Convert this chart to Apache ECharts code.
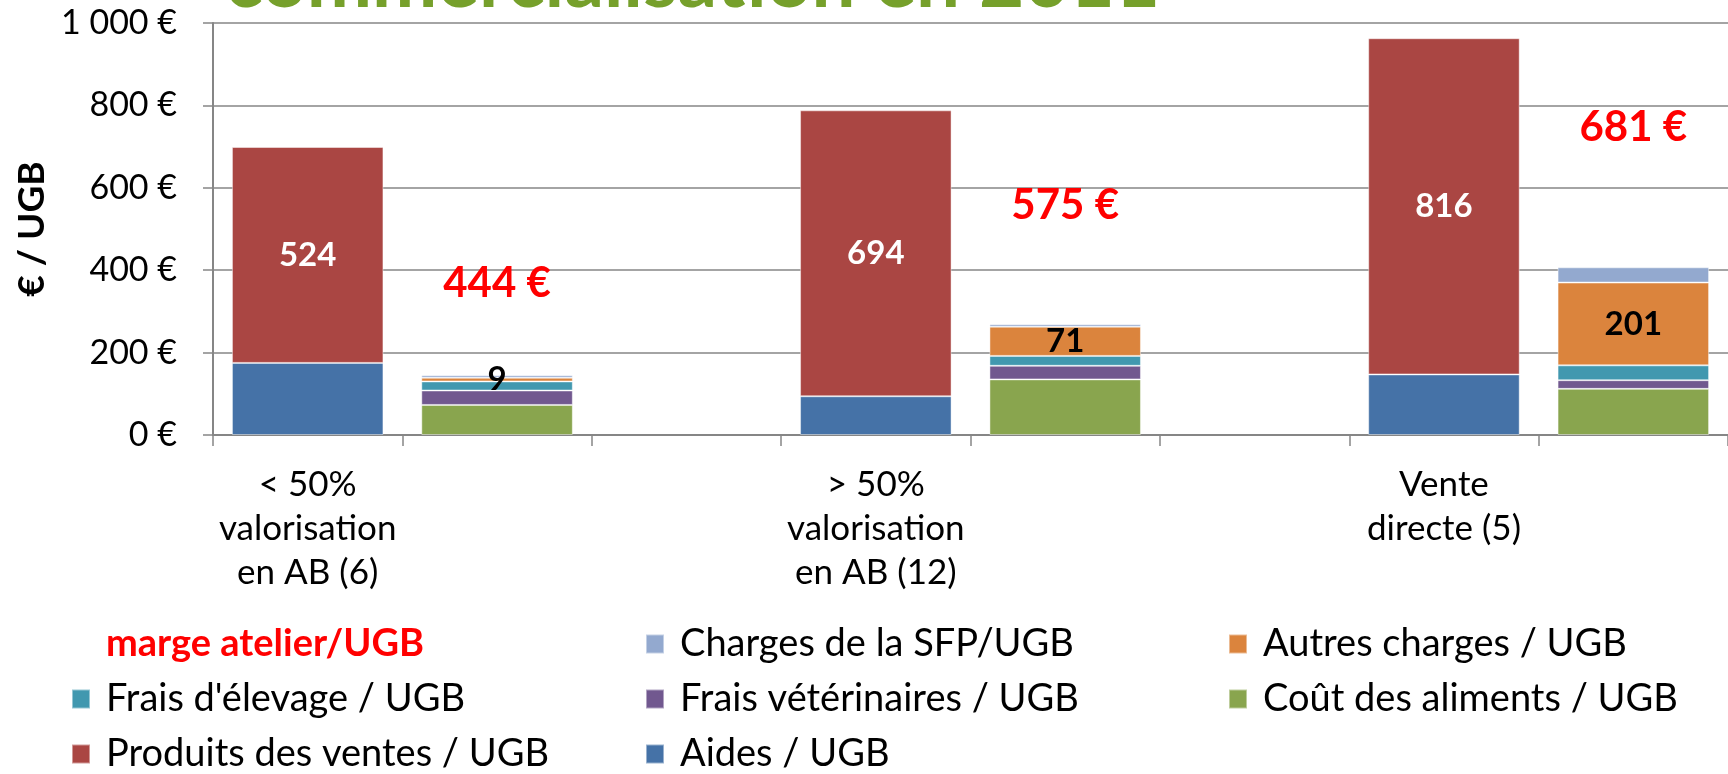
<!DOCTYPE html>
<html>
<head>
<meta charset="utf-8">
<title>Marge atelier / UGB</title>
<script src="https://cdn.jsdelivr.net/npm/echarts@6/dist/echarts.min.js"></script>
<style>
    html, body { margin: 0; padding: 0; background: #fff; }
    #chart { width: 1728px; height: 774px; }
</style>
</head>
<body>
<div id="chart"></div>
<script>
// catégories : une barre produits, une barre charges, un vide, par groupe
var categories = ["< 50%\nvalorisation\nen AB (6)", "", "", "> 50%\nvalorisation\nen AB (12)", "", "", "Vente\ndirecte (5)", ""];
var yTicks = [0, 200, 400, 600, 800, 1000];

// barres produits
var aides = [175, "-", "-", 94, "-", "-", 147, "-"];
var produits = [524, "-", "-", 694, "-", "-", 816, "-"];
// barres charges
var aliments = ["-", 73, "-", "-", 135, "-", "-", 112];
var veto = ["-", 35, "-", "-", 33, "-", "-", 21];
var elevage = ["-", 22, "-", "-", 24, "-", "-", 36];
var autres = ["-", 9, "-", "-", 71, "-", "-", 201];
var sfp = ["-", 6, "-", "-", 6, "-", "-", 37];
var marge = ["-", 444, "-", "-", 575, "-", "-", 681];

var font = "Lato";

function serie(name, data, color, label) {
    return {
        name: name,
        type: "bar",
        stack: "total",
        data: data,
        barCategoryGap: "20%",
        itemStyle: { color: color, borderColor: "rgba(255,255,255,0.45)", borderWidth: 1 },
        label: label || { show: false },
        emphasis: { disabled: true }
    };
}

var legendText = { fontFamily: font, fontSize: 38, color: "#000", lineHeight: 38, padding: [0, 0, 0, 11] };
function legende(left, names) {
    return {
        orient: "vertical",
        left: left,
        top: 620,
        height: 200,
        itemWidth: 18,
        itemHeight: 19,
        itemGap: 17,
        icon: "rect",
        selectedMode: false,
        textStyle: legendText,
        data: names
    };
}

var myChart = echarts.init(document.getElementById("chart"));
var option = {
    animation: false,
    grid: { left: 213, top: 23, right: -10, bottom: 339 },
    graphic: [{
        type: "text",
        left: 225,
        top: -57,
        style: {
            text: "commercialisation en 2011",
            fill: "#76A02B",
            font: "bold 78px Lato"
        }
    }],
    legend: [
        legende(66, [
            { name: "marge atelier/UGB", icon: "none", textStyle: { color: "#FF0000", fontWeight: "bold" } },
            "Frais d'élevage / UGB",
            "Produits des ventes / UGB"
        ]),
        legende(640, ["Charges de la SFP/UGB", "Frais vétérinaires / UGB", "Aides / UGB"]),
        legende(1223, ["Autres charges / UGB", "Coût des aliments / UGB"])
    ],
    xAxis: {
        type: "category",
        data: categories,
        axisLine: { lineStyle: { color: "#868686", width: 2 } },
        axisTick: { show: true, interval: 0, length: 11, lineStyle: { color: "#868686", width: 1.5 } },
        axisLabel: {
            interval: 0,
            margin: 28,
            fontFamily: font,
            fontSize: 35,
            lineHeight: 44,
            color: "#000"
        }
    },
    yAxis: {
        type: "value",
        min: yTicks[0],
        max: yTicks[yTicks.length - 1],
        interval: 200,
        name: "€ / UGB",
        nameLocation: "middle",
        nameGap: 158,
        nameTextStyle: { fontFamily: font, fontSize: 37, fontWeight: "bold", color: "#000" },
        axisLine: { show: true, lineStyle: { color: "#868686", width: 2 } },
        axisTick: { show: true, length: 10, lineStyle: { color: "#868686", width: 1.5 } },
        splitLine: { lineStyle: { color: "#868686", width: 1.5 } },
        axisLabel: {
            margin: 36,
            fontFamily: font,
            fontSize: 34,
            color: "#000",
            formatter: function (v) {
                return (v >= 1000 ? Math.floor(v / 1000) + " " + String(v % 1000).padStart(3, "0") : v) + " €";
            }
        }
    },
    series: [
        serie("Aides / UGB", aides, "#4572A7"),
        serie("Produits des ventes / UGB", produits, "#AA4643",
            { show: true, position: "inside", color: "#fff", fontFamily: font, fontSize: 33, fontWeight: "bold" }),
        serie("Coût des aliments / UGB", aliments, "#89A54E"),
        serie("Frais vétérinaires / UGB", veto, "#71588F"),
        serie("Frais d'élevage / UGB", elevage, "#4198AF"),
        serie("Autres charges / UGB", autres, "#DB843D",
            { show: true, position: "inside", color: "#000", fontFamily: font, fontSize: 33, fontWeight: "bold" }),
        serie("Charges de la SFP/UGB", sfp, "#93A9CF"),
        {
            name: "marge atelier/UGB",
            type: "bar",
            stack: "total",
            data: marge,
            clip: false,
            itemStyle: { color: "rgba(0,0,0,0)" },
            label: {
                show: true,
                position: "inside",
                formatter: "{c} €",
                color: "#FF0000",
                fontFamily: font,
                fontSize: 42,
                fontWeight: "bold"
            },
            emphasis: { disabled: true }
        }
    ]
};
myChart.setOption(option);
</script>
</body>
</html>
